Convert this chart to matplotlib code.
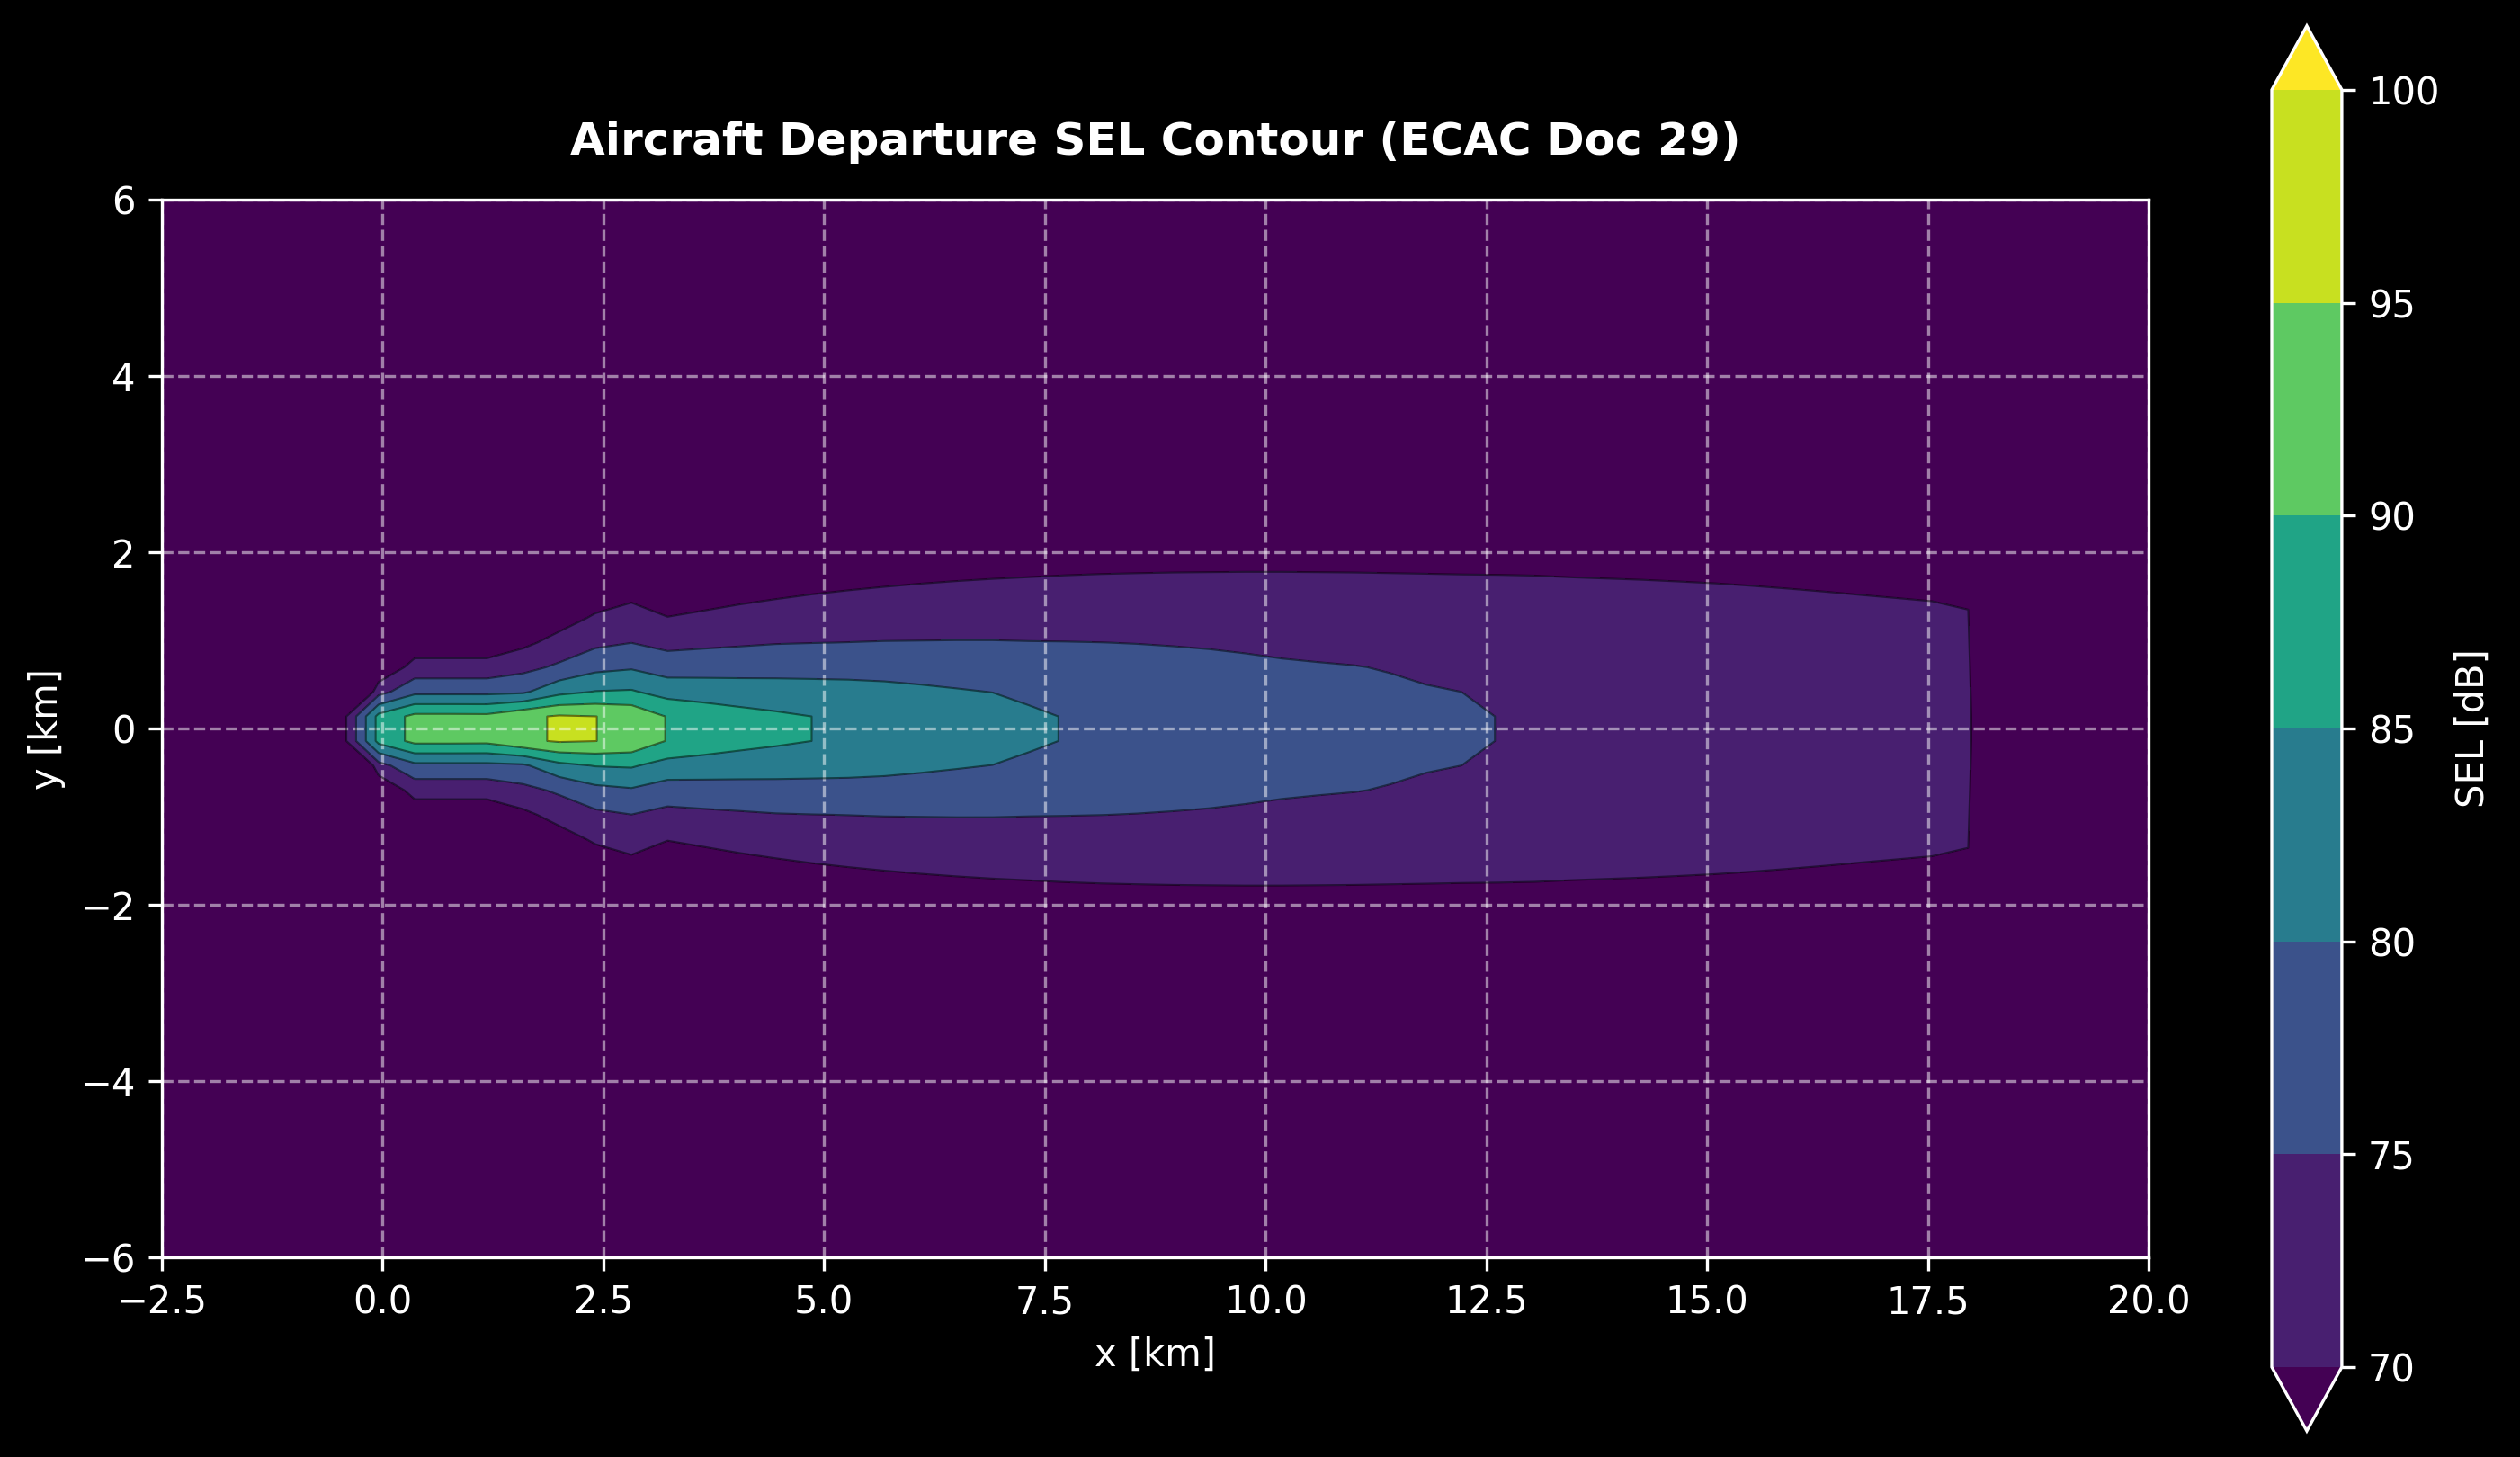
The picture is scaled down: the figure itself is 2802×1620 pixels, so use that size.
import numpy as np
import matplotlib
matplotlib.use('Agg')
import matplotlib.pyplot as plt

plt.style.use('dark_background')

# 计算网格 (km)
x_km = np.linspace(-2.5, 20, 56)
y_km = np.linspace(-6, 6, 44)

# 等值线等级 (dB)
sel_levels = [70, 75, 80, 85, 90, 95, 100]
sel_floor = 50.0

# SEL 读数: 网格列 5..50 (x = -0.45 .. 17.95 km), 每行对应一个 |y| 网格行
sel_y014 = [68.0, 86.5, 91.3, 91.3, 91.2, 94.0, 95.5, 95.05, 93.85, 89.73, 88.0, 86.7, 85.8, 84.99,
            84.8, 84.3, 83.7, 83.0, 82.3, 80.9, 79.8, 79.40, 78.99, 78.59, 78.19, 77.78, 77.38, 76.98,
            76.57, 76.17, 75.77, 75.36, 74.96, 74.6, 74.3, 74.0, 73.75, 73.5, 73.3, 73.1, 72.9, 72.7,
            72.5, 72.3, 72.1, 71.9]
sel_y042 = [52.0, 73.1, 78.7, 78.7, 78.7, 79.2, 83.6, 85.2, 85.5, 83.1, 82.7, 82.3, 82.0, 81.76,
            81.61, 81.30, 80.84, 80.36, 79.93, 78.92, 78.22, 77.94, 77.64, 77.35, 77.05, 76.73, 76.41, 76.12,
            75.83, 75.54, 75.25, 74.99, 74.10, 73.80, 73.54, 73.29, 73.07, 72.86, 72.69, 72.52, 72.34, 72.17,
            71.99, 71.82, 71.65, 71.46]
sel_y070 = [50.0, 65.3, 71.9, 71.9, 71.9, 73.6, 75.8, 78.6, 79.48, 77.74, 77.96, 78.16, 78.35, 78.4,
            78.36, 78.25, 78.0, 77.78, 77.56, 77.02, 76.65, 76.48, 76.29, 76.10, 75.91, 75.69, 75.44, 75.26,
            75.10, 74.83, 74.39, 73.96, 73.24, 72.99, 72.78, 72.57, 72.40, 72.22, 72.08, 71.93, 71.78, 71.64,
            71.49, 71.35, 71.20, 71.03]
sel_y098 = [50.0, 60.0, 66.7, 66.7, 66.7, 68.9, 71.7, 73.95, 74.95, 73.58, 74.04, 74.42, 74.79, 74.94,
            75.04, 75.15, 75.18, 75.21, 75.20, 75.12, 75.08, 75.02, 74.93, 74.81, 74.67, 74.46, 74.20, 74.01,
            73.83, 73.57, 73.23, 72.91, 72.37, 72.19, 72.02, 71.86, 71.72, 71.59, 71.47, 71.35, 71.23, 71.11,
            70.98, 70.87, 70.75, 70.59]
sel_y126 = [50.0, 55.0, 62.0, 62.0, 62.0, 64.0, 67.9, 70.64, 71.9, 70.17, 70.94, 71.57, 72.08, 72.43,
            72.66, 72.86, 72.99, 73.11, 73.17, 73.20, 73.23, 73.22, 73.18, 73.12, 73.04, 72.91, 72.74, 72.61,
            72.49, 72.30, 72.08, 71.86, 71.51, 71.38, 71.26, 71.15, 71.05, 70.95, 70.86, 70.76, 70.67, 70.58,
            70.48, 70.39, 70.30, 70.15]
sel_y153 = [50.0, 52.0, 57.0, 57.0, 57.0, 59.0, 63.0, 67.3, 68.85, 66.8, 67.8, 68.73, 69.37, 69.91,
            70.30, 70.61, 70.85, 71.04, 71.18, 71.28, 71.37, 71.42, 71.44, 71.43, 71.41, 71.36, 71.28, 71.21,
            71.14, 71.04, 70.92, 70.81, 70.65, 70.58, 70.50, 70.43, 70.37, 70.31, 70.25, 70.18, 70.11, 70.04,
            69.97, 69.91, 69.86, 69.71]
sel_y181 = [50.0, 50.0, 52.0, 52.0, 52.0, 54.0, 57.0, 62.0, 64.0, 62.0, 64.0, 65.5, 66.5, 67.4,
            67.9, 68.34, 68.7, 68.97, 69.19, 69.35, 69.51, 69.62, 69.69, 69.75, 69.78, 69.81, 69.82, 69.81,
            69.80, 69.78, 69.77, 69.76, 69.79, 69.78, 69.74, 69.72, 69.70, 69.67, 69.64, 69.60, 69.55, 69.51,
            69.47, 69.44, 69.41, 69.28]

# 组装网格 (关于跑道中心线对称)
Z = np.full((len(y_km), len(x_km)), sel_floor)
half_rows = [sel_y014, sel_y042, sel_y070, sel_y098, sel_y126, sel_y153, sel_y181]
mid = len(y_km) // 2
for j, row in enumerate(half_rows):
    Z[mid + j, 5:5 + len(row)] = row
    Z[mid - 1 - j, 5:5 + len(row)] = row

X, Y = np.meshgrid(x_km, y_km)

fig = plt.figure(figsize=(9.34, 5.4), dpi=300)
ax = fig.add_axes([0.0642, 0.1369, 0.7885, 0.7259])
cax = fig.add_axes([0.9015, 0.0179, 0.0278, 0.9643])

cf = ax.contourf(X, Y, Z, levels=sel_levels, cmap='viridis', extend='both')
ax.contour(X, Y, Z, levels=sel_levels[:-1], colors='black', linewidths=0.5, alpha=0.5)

ax.set_xlim(-2.5, 20)
ax.set_ylim(-6, 6)
ax.set_xlabel('x [km]')
ax.set_ylabel('y [km]')
ax.set_title('Aircraft Departure SEL Contour (ECAC Doc 29)', fontsize=12, fontweight='bold', pad=12)
ax.grid(True, linestyle='--', alpha=0.5)

cbar = fig.colorbar(cf, cax=cax)
cbar.set_label('SEL [dB]')

plt.savefig('out.png', dpi=300)
